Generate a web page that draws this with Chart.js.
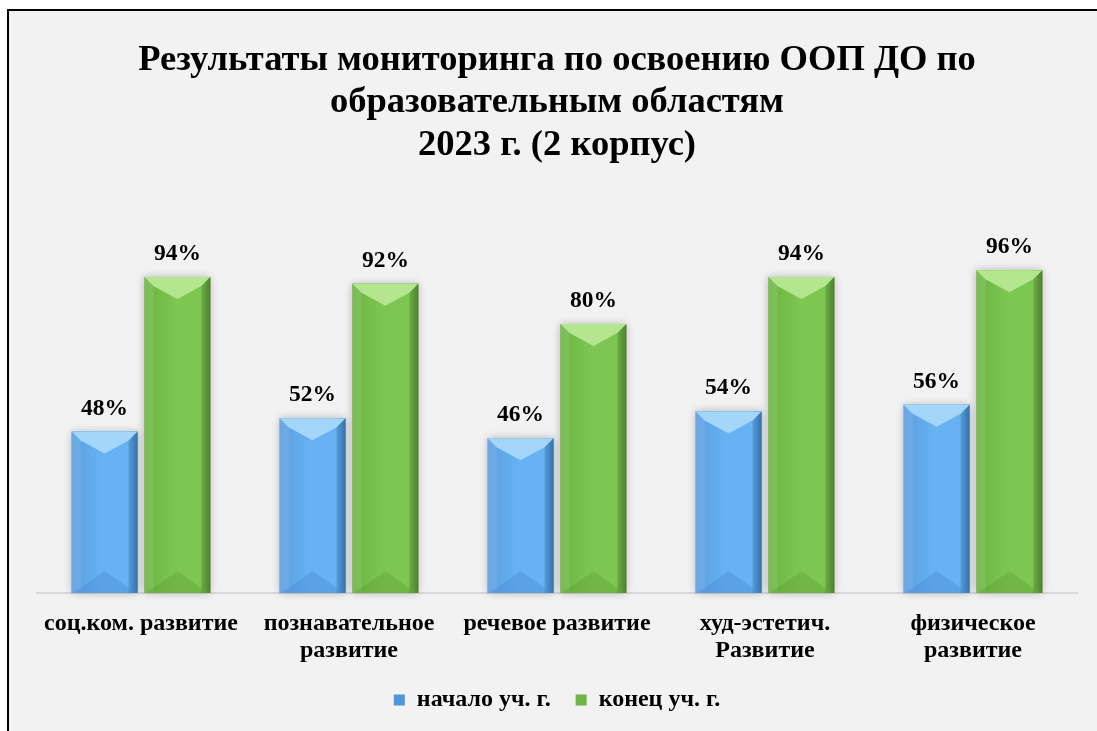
<!DOCTYPE html>
<html>
<head>
<meta charset="utf-8">
<script src="https://cdn.jsdelivr.net/npm/chart.js@4.4.0/dist/chart.umd.min.js"></script>
<style>
  html, body { margin: 0; padding: 0; background: #fff; }
  #frame {
    position: absolute; left: 7px; top: 9px; width: 1100px; height: 730px;
    border: 2px solid #000; background: #f2f2f2;
  }
  #wrap { position: absolute; left: 0; top: 0; width: 1097px; height: 731px; }
</style>
</head>
<body>
<div id="frame"></div>
<div id="wrap"><canvas id="myChart" width="1097" height="731"></canvas></div>
<script>
// chart data
const titleLines = ['Результаты мониторинга по освоению ООП ДО по', 'образовательным областям', '2023 г. (2 корпус)'];
const categories = [['соц.ком. развитие'], ['познавательное', 'развитие'], ['речевое развитие'], ['худ-эстетич.', 'Развитие'], ['физическое', 'развитие']];
const seriesNames = ['начало уч. г.', 'конец уч. г.'];
const startValues = [48, 52, 46, 54, 56];
const endValues = [94, 92, 80, 94, 96];

const SERIF = '"Liberation Serif", "Times New Roman", serif';

// colours per series: [edge left, middle, edge right, top bevel, bottom bevel]
const palettes = [
  ['#5a9de0', '#66b2f2', '#3f7dbd', '#a4d6fa', '#4a8ad0'],
  ['#6cb443', '#7ec652', '#568f33', '#b3e68e', '#5e9e38']
];

// draws the bevelled look on top of each bar + the value labels
const bevelBars = {
  id: 'bevelBars',
  beforeDatasetsDraw(chart) {
    const ctx = chart.ctx;
    chart.data.datasets.forEach((ds, i) => {
      chart.getDatasetMeta(i).data.forEach(bar => {
        const w = bar.width, l = bar.x - w / 2;
        ctx.save();
        ctx.shadowColor = 'rgba(0,0,0,0.25)';
        ctx.shadowBlur = 8;
        ctx.fillStyle = '#d0d0d0';
        ctx.fillRect(l, bar.y, w, bar.base - bar.y);
        ctx.restore();
      });
    });
  },
  afterDatasetsDraw(chart) {
    const ctx = chart.ctx;
    chart.data.datasets.forEach((ds, i) => {
      const p = palettes[i];
      chart.getDatasetMeta(i).data.forEach((bar, j) => {
        const w = bar.width, l = bar.x - w / 2, r = bar.x + w / 2;
        const t = bar.y, b = bar.base, bev = 9, tri = 22;
        const g = ctx.createLinearGradient(l, 0, r, 0);
        g.addColorStop(0, p[0]);
        g.addColorStop(0.45, p[1]);
        g.addColorStop(0.85, p[1]);
        g.addColorStop(1, p[2]);
        ctx.save();
        ctx.fillStyle = g;
        ctx.fillRect(l, t, w, b - t);
        // side strips
        ctx.fillStyle = 'rgba(255,255,255,0.10)';
        ctx.fillRect(l, t, bev, b - t);
        ctx.fillStyle = 'rgba(0,0,0,0.10)';
        ctx.fillRect(r - bev, t, bev, b - t);
        // top bevel
        ctx.fillStyle = p[3];
        ctx.beginPath();
        ctx.moveTo(l, t); ctx.lineTo(r, t); ctx.lineTo(r - bev, t + bev);
        ctx.lineTo(bar.x, t + tri); ctx.lineTo(l + bev, t + bev); ctx.closePath();
        ctx.fill();
        // bottom bevel
        ctx.fillStyle = p[4];
        ctx.globalAlpha = 0.4;
        ctx.beginPath();
        ctx.moveTo(l, b); ctx.lineTo(r, b); ctx.lineTo(r - bev, b - 5);
        ctx.lineTo(bar.x, b - tri); ctx.lineTo(l + bev, b - 5); ctx.closePath();
        ctx.fill();
        ctx.restore();
        // value label
        ctx.save();
        ctx.font = 'bold 23.5px ' + SERIF;
        ctx.fillStyle = '#000';
        ctx.textAlign = 'center';
        ctx.textBaseline = 'alphabetic';
        ctx.fillText(ds.data[j] + '%', bar.x, t - 17);
        ctx.restore();
      });
    });
  }
};

const myChartRef = document.getElementById('myChart').getContext('2d');
new Chart(myChartRef, {
  type: 'bar',
  data: {
    labels: categories,
    datasets: [
      { label: seriesNames[0], data: startValues, backgroundColor: '#4f96da' },
      { label: seriesNames[1], data: endValues, backgroundColor: '#6cb643' }
    ]
  },
  options: {
    responsive: false,
    animation: false,
    events: [],
    datasets: { bar: { categoryPercentage: 0.70, barPercentage: 0.905 } },
    layout: { padding: { left: 37, right: 20, top: 0, bottom: 9 } },
    scales: {
      x: {
        grid: { display: false, drawTicks: false },
        border: { display: true, color: '#d9d9d9', width: 2 },
        ticks: { color: '#000', padding: 17, font: { family: SERIF, size: 24, weight: 'bold', lineHeight: 1.125 } },
        // legend padding is large for item spacing, so trim the unused space below the labels
        afterFit(scale) { scale.height = 70; }
      },
      y: { display: false, min: 0, max: 100 }
    },
    plugins: {
      title: {
        display: true,
        text: titleLines,
        color: '#000',
        font: { family: SERIF, size: 36.5, weight: 'bold', lineHeight: 1.167 },
        padding: { top: 39, bottom: 90 }
      },
      legend: {
        position: 'bottom',
        labels: {
          color: '#000',
          boxWidth: 11, boxHeight: 11,
          padding: 25,
          font: { family: SERIF, size: 24, weight: 'bold' }
        }
      },
      tooltip: { enabled: false }
    }
  },
  plugins: [bevelBars]
});
</script>
</body>
</html>
